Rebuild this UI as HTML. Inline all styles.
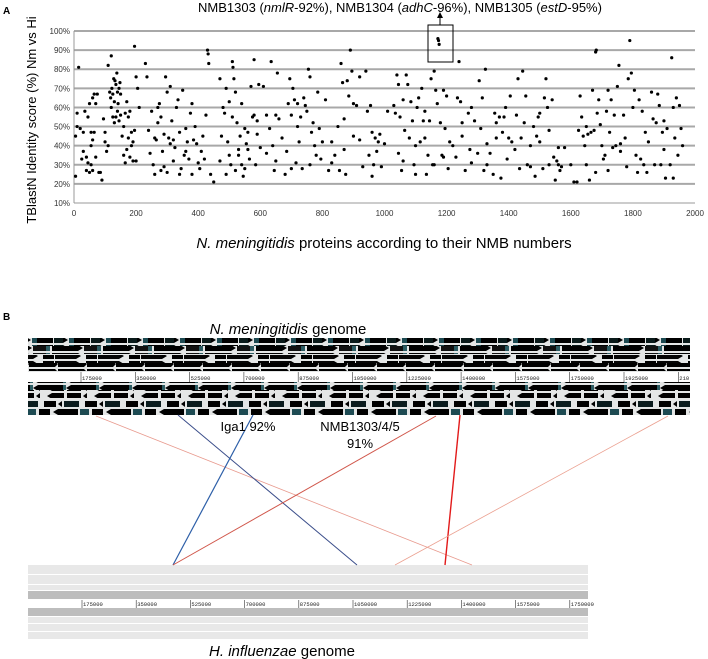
<!DOCTYPE html>
<html><head><meta charset="utf-8"><style>
html,body{margin:0;padding:0;background:#fff}
svg{display:block;font-family:"Liberation Sans",sans-serif}
</style></head><body>
<svg id="fig" width="708" height="659" viewBox="0 0 708 659">
<defs>
<pattern id="fw1" width="37" height="8" patternUnits="userSpaceOnUse"><rect x="0" y="1" width="16" height="6" fill="#000"/><rect x="17" y="1" width="9" height="6" fill="#0a1a1a"/><polygon points="26,1 31,4 26,7" fill="#000"/><rect x="32" y="1" width="5" height="6" fill="#1d4a52"/></pattern>
<pattern id="fw2" width="51" height="8" patternUnits="userSpaceOnUse"><rect x="1" y="1" width="26" height="6" fill="#000"/><polygon points="27,1 32,4 27,7" fill="#000"/><rect x="33" y="1" width="13" height="6" fill="#111"/><rect x="46" y="1" width="4" height="6" fill="#2c5c63"/></pattern>
<pattern id="fw3" width="43" height="8" patternUnits="userSpaceOnUse"><rect x="0" y="1" width="11" height="6" fill="#000"/><rect x="12" y="1" width="21" height="6" fill="#050505"/><polygon points="33,1 38,4 33,7" fill="#000"/></pattern>
<pattern id="fw4" width="29" height="8" patternUnits="userSpaceOnUse"><rect x="0" y="1" width="26" height="6" fill="#000"/><polygon points="26,1 29,4 26,7" fill="#000"/></pattern>
<pattern id="rv1" width="33" height="8" patternUnits="userSpaceOnUse"><polygon points="0,4 5,1 5,7" fill="#000"/><rect x="5" y="1" width="25" height="6" fill="#000"/><rect x="30" y="1" width="3" height="6" fill="#2c5c63"/></pattern>
<pattern id="rv2" width="47" height="8" patternUnits="userSpaceOnUse"><polygon points="0,4 5,1 5,7" fill="#000"/><rect x="5" y="1" width="12" height="6" fill="#000"/><rect x="20" y="1" width="14" height="6" fill="#000"/><polygon points="36,4 40,1 40,7" fill="#000"/></pattern>
<pattern id="rv3" width="41" height="8" patternUnits="userSpaceOnUse"><rect x="3" y="1" width="12" height="6" fill="#000"/><polygon points="17,4 21,1 21,7" fill="#000"/><rect x="23" y="1" width="15" height="6" fill="#0b1c1e"/></pattern>
<pattern id="rv4" width="53" height="8" patternUnits="userSpaceOnUse"><polygon points="0,4 5,1 5,7" fill="#000"/><rect x="5" y="1" width="20" height="6" fill="#000"/><rect x="27" y="1" width="9" height="6" fill="#1d4a52"/><rect x="39" y="1" width="11" height="6" fill="#000"/></pattern>
</defs>

<text x="3" y="14" font-size="10" font-weight="bold">A</text>
<text x="400" y="12" font-size="13" text-anchor="middle">NMB1303 (<tspan font-style="italic">nmlR</tspan>-92%), NMB1304 (<tspan font-style="italic">adhC</tspan>-96%), NMB1305 (<tspan font-style="italic">estD</tspan>-95%)</text>
<g id="grid"></g>
<g id="yticks"></g>
<g id="xticks"></g>
<g id="dots"></g>
<rect x="428" y="25" width="25" height="37" fill="none" stroke="#000" stroke-width="1"/>
<line x1="440" y1="25" x2="440" y2="16" stroke="#000"/>
<polygon points="437,18 440,12 443,18" fill="#000"/>
<text transform="translate(36,120) rotate(-90)" font-size="13" text-anchor="middle">TBlastN Identity score (%) Nm vs Hi</text>
<text x="384" y="248" font-size="15" text-anchor="middle"><tspan font-style="italic">N. meningitidis</tspan> proteins according to their NMB numbers</text>

<text x="3" y="320" font-size="10" font-weight="bold">B</text>
<text x="288" y="334" font-size="15" text-anchor="middle"><tspan font-style="italic">N. meningitidis</tspan> genome</text>
<g>
<rect x="28" y="338" width="662" height="34" fill="#e4e6e6"/>
<rect x="28" y="338" width="662" height="8" fill="url(#fw1)"/>
<rect x="28" y="346" width="662" height="8" fill="url(#fw2)"/>
<rect x="28" y="355" width="662" height="8" fill="url(#fw3)"/>
<rect x="28" y="363" width="662" height="8" fill="url(#fw4)"/>
<rect x="28" y="382" width="662" height="33" fill="#e4e6e6"/>
<rect x="28" y="382" width="662" height="8" fill="url(#rv1)"/>
<rect x="28" y="390" width="662" height="8" fill="url(#rv2)"/>
<rect x="28" y="399" width="662" height="8" fill="url(#rv3)"/>
<rect x="28" y="407" width="662" height="8" fill="url(#rv4)"/>
<g id="nmruler" font-family="Liberation Mono,monospace" font-size="5.5"></g>
</g>
<g>
<rect x="28" y="565" width="560" height="9" fill="#e8e8e8"/>
<rect x="28" y="575" width="560" height="9" fill="#e8e8e8"/>
<rect x="28" y="585" width="560" height="5" fill="#e8e8e8"/>
<rect x="28" y="591" width="560" height="8" fill="#bdbdbd"/>
<rect x="28" y="608" width="560" height="8" fill="#bdbdbd"/>
<rect x="28" y="617" width="560" height="6" fill="#e8e8e8"/>
<rect x="28" y="624" width="560" height="7" fill="#e8e8e8"/>
<rect x="28" y="632" width="560" height="7" fill="#e8e8e8"/>
<g id="hiruler" font-family="Liberation Mono,monospace" font-size="5.5"></g>
</g>
<g>
<line x1="96" y1="416" x2="472" y2="565" stroke="#e89a8e" stroke-width="0.8"/>
<line x1="178" y1="415" x2="357" y2="565" stroke="#3a4d8a" stroke-width="1"/>
<line x1="253" y1="415" x2="173" y2="565" stroke="#2d5fa8" stroke-width="1.2"/>
<line x1="436" y1="416" x2="173" y2="565" stroke="#d0564a" stroke-width="1"/>
<line x1="460" y1="415" x2="445" y2="565" stroke="#e21a1a" stroke-width="1.4"/>
<line x1="668" y1="416" x2="395" y2="565" stroke="#eba090" stroke-width="0.8"/>
</g>
<text x="248" y="431" font-size="13" text-anchor="middle">Iga1 92%</text>
<text x="360" y="431" font-size="13" text-anchor="middle">NMB1303/4/5</text>
<text x="360" y="448" font-size="13" text-anchor="middle">91%</text>
<text x="282" y="656" font-size="15" text-anchor="middle"><tspan font-style="italic">H. influenzae</tspan> genome</text>
</svg>
<script>
const xTicks=[0,200,400,600,800,1000,1200,1400,1600,1800,2000];
const yTicks=[10,20,30,40,50,60,70,80,90,100];
const points=[[5,24],[10,57],[15,81],[10,50],[5,45],[20,49],[25,33],[30,47],[35,58],[40,34],[45,55],[50,62],[55,47],[60,65],[65,67],[70,62],[50,26],[55,30],[60,27],[65,47],[70,34],[75,67],[80,26],[85,26],[60,43],[90,22],[95,54],[100,42],[105,37],[110,40],[100,47],[40,27],[45,31],[55,40],[30,37],
[110,82],[115,68],[118,65],[120,87],[122,70],[125,67],[128,75],[130,63],[132,74],[135,72],[138,78],[140,68],[142,62],[145,70],[148,73],[150,67],[120,60],[125,55],[130,52],[135,55],[140,58],[145,53],[150,56],[155,45],[160,50],[165,57],[170,63],[175,55],[180,58],[185,47],[190,42],[160,35],[165,31],[170,38],[180,34],[185,40],[190,32],[195,92],[200,76],[205,70],[210,60],[200,32],[195,48],[175,44],
[230,83],[235,76],[240,48],[250,58],[245,36],[255,30],[260,25],[265,43],[270,60],[275,62],[280,55],[285,37],[290,29],[295,76],[300,68],[305,44],[310,71],[315,53],[320,43],[325,39],[330,60],[335,64],[340,47],[345,28],[350,69],[355,35],[360,49],[365,42],[370,33],[375,57],[380,62],[385,43],[390,50],[395,41],[400,31],[405,28],[410,37],[415,45],[420,33],[425,56],[430,90],[432,88],[434,83],[440,25],[450,21],[280,27],[300,26],[260,44],[320,32],[340,25],[360,37],[380,25],[290,46],[310,41],[270,52],
[470,75],[480,60],[485,57],[490,70],[495,42],[500,63],[505,30],[510,84],[512,81],[515,75],[520,68],[525,52],[530,35],[535,45],[540,62],[545,24],[550,49],[555,41],[560,38],[565,33],[570,71],[575,55],[580,85],[585,30],[590,46],[595,72],[600,39],[475,45],[490,25],[500,35],[520,27],[540,30],[560,47],[580,56],[590,53],[470,32],[510,55],[530,38],[550,28],
[610,71],[620,56],[630,49],[635,84],[640,40],[645,27],[650,56],[655,78],[660,54],[670,44],[680,25],[685,37],[690,62],[695,75],[700,56],[705,70],[710,64],[715,31],[720,50],[725,42],[730,55],[735,28],[740,65],[745,61],[750,58],[755,80],[760,76],[765,47],[770,52],[775,40],[780,35],[785,68],[790,49],[795,33],[800,42],[620,36],[650,32],[700,28],[720,62],[760,30],
[810,64],[820,27],[830,42],[840,35],[850,50],[855,27],[860,83],[865,73],[870,54],[875,25],[880,74],[885,66],[890,90],[895,79],[900,45],[910,61],[920,76],[930,29],[940,79],[945,58],[950,35],[955,61],[960,24],[965,30],[970,44],[975,37],[980,42],[985,46],[990,29],[1000,41],[920,43],[900,62],[870,38],[830,31],[960,47],
[1010,58],[1030,61],[1035,57],[1040,77],[1045,72],[1050,55],[1055,27],[1060,64],[1070,77],[1075,72],[1080,44],[1085,63],[1090,53],[1095,30],[1100,25],[1105,60],[1110,65],[1115,42],[1120,70],[1125,53],[1130,58],[1135,25],[1140,35],[1145,53],[1150,75],[1155,30],[1160,79],[1165,69],[1170,62],[1172,96],[1174,95],[1176,93],[1180,52],[1185,35],[1190,69],[1195,49],[1200,66],[1045,36],[1065,48],[1100,40],[1130,44],[1160,30],[1190,34],[1060,32],
[1205,28],[1210,42],[1220,40],[1230,34],[1235,65],[1240,84],[1245,63],[1250,45],[1260,27],[1270,57],[1275,38],[1280,60],[1290,53],[1300,36],[1305,74],[1310,49],[1315,65],[1320,27],[1325,80],[1330,41],[1340,36],[1350,25],[1355,57],[1360,52],[1370,55],[1375,23],[1380,47],[1385,55],[1390,60],[1395,33],[1400,44],[1250,52],[1280,31],[1330,30],[1360,44],
[1405,66],[1410,42],[1420,38],[1425,56],[1430,75],[1435,28],[1440,44],[1445,79],[1450,52],[1455,66],[1460,30],[1470,40],[1480,50],[1485,24],[1490,45],[1495,55],[1500,57],[1510,28],[1515,65],[1520,75],[1525,60],[1530,48],[1540,64],[1545,34],[1550,22],[1555,32],[1560,30],[1565,27],[1570,29],[1580,39],[1600,30],[1610,21],[1620,21],[1500,42],[1470,29],[1530,30],[1560,39],
[1625,48],[1630,66],[1635,55],[1640,45],[1645,40],[1650,30],[1655,46],[1660,22],[1665,47],[1670,69],[1675,48],[1680,89],[1682,90],[1685,57],[1690,64],[1695,51],[1700,40],[1705,33],[1710,35],[1715,58],[1720,69],[1725,47],[1730,64],[1735,39],[1740,56],[1745,40],[1750,71],[1755,82],[1760,41],[1770,56],[1775,44],[1780,29],[1785,75],[1790,95],[1795,78],[1800,60],[1680,26],[1720,27],[1760,37],[1650,50],
[1805,69],[1810,35],[1815,26],[1820,64],[1825,33],[1830,58],[1835,30],[1840,47],[1845,26],[1850,42],[1860,68],[1865,54],[1870,30],[1875,52],[1880,67],[1885,61],[1890,30],[1895,47],[1900,53],[1905,23],[1910,49],[1920,30],[1925,86],[1930,60],[1935,44],[1940,65],[1945,35],[1950,61],[1955,49],[1960,40],[1930,23],[1900,38]];

const svg=document.getElementById('fig');
const NS='http://www.w3.org/2000/svg';
const X0=74,X1=695,Y10=203,Y100=31;
const xs=v=>X0+(v-0)/2000*(X1-X0);
const ys=v=>Y10-(v-10)/90*(Y10-Y100);
function mk(tag,attrs,parent){const e=document.createElementNS(NS,tag);for(const k in attrs)e.setAttribute(k,attrs[k]);parent.appendChild(e);return e;}

const grid=document.getElementById('grid'),yt=document.getElementById('yticks'),xt=document.getElementById('xticks'),dots=document.getElementById('dots');
yTicks.forEach(t=>{
  const l=mk('line',{x1:X0,x2:X1,y1:ys(t),y2:ys(t),stroke:t===10?'#999':'#a8a8a8','stroke-width':t===10?1:2},grid);
  
  
  const tx=mk('text',{x:X0-4,y:ys(t)+3,'font-size':8,'text-anchor':'end',fill:'#333'},yt);
  tx.textContent=t+'%';
  
  
});
mk('line',{x1:X0,x2:X0,y1:Y100,y2:Y10,stroke:'#999','stroke-width':1},grid);
xTicks.forEach(t=>{
  const tx=mk('text',{x:xs(t),y:Y10+13,'font-size':8,'text-anchor':'middle',fill:'#333'},xt);
  tx.textContent=t;
  
  
});
points.forEach(p=>{
  const c=mk('circle',{cx:xs(p[0]),cy:ys(p[1]),r:1.6,fill:'#000'},dots);
  
  
});

const nmTicks=['175000','350000','525000','700000','875000','1050000','1225000','1400000','1575000','1750000','1925000','210'];
const hiTicks=['175000','350000','525000','700000','875000','1050000','1225000','1400000','1575000','1750000'];
const nmr=document.getElementById('nmruler'),hir=document.getElementById('hiruler');
nmTicks.forEach((t,i)=>{
  const x=81+i*54.3;
  mk('line',{x1:x,x2:x,y1:372,y2:382,stroke:'#333','stroke-width':0.6},nmr);
  const tx=mk('text',{x:x+1,y:380,fill:'#222'},nmr);tx.textContent=t;
  
  
});
hiTicks.forEach((t,i)=>{
  const x=82+i*54.2;
  mk('line',{x1:x,x2:x,y1:600,y2:608,stroke:'#333','stroke-width':0.6},hir);
  const tx=mk('text',{x:x+1,y:606,fill:'#222'},hir);tx.textContent=t;
  
  
});
</script>
</body></html>
